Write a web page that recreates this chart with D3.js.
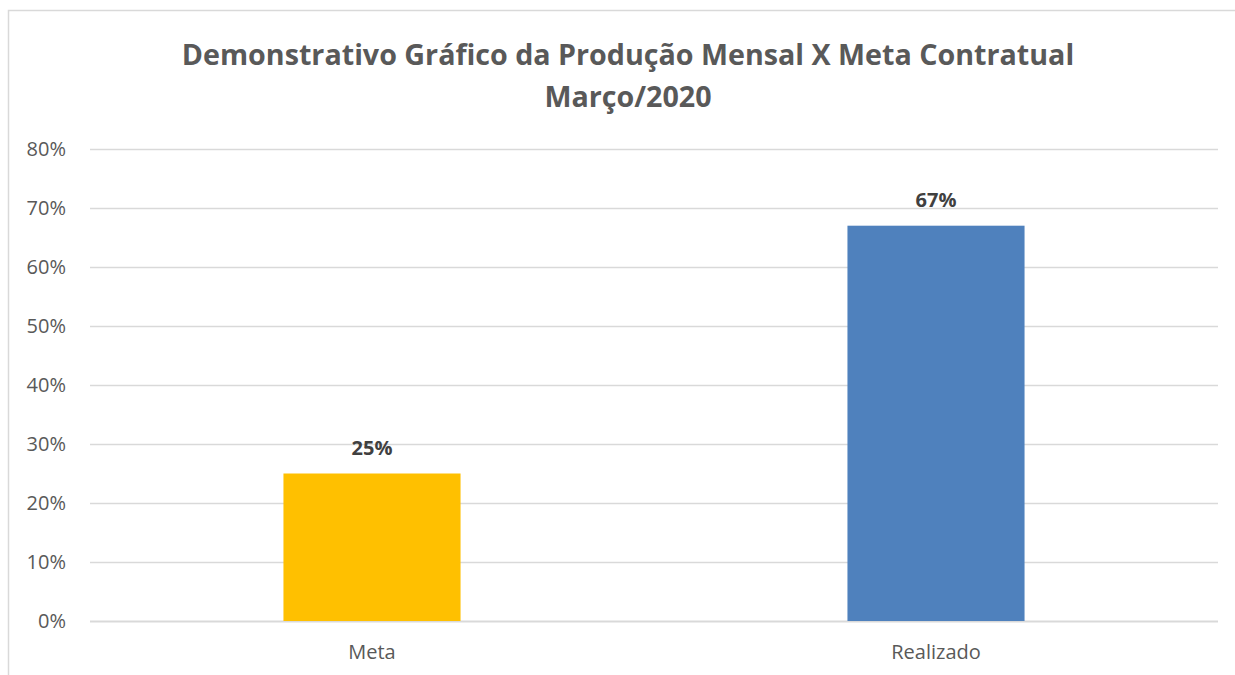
<!DOCTYPE html>
<html><head><meta charset="utf-8">
<script src="https://cdn.jsdelivr.net/npm/d3@7"></script>
<style>
html,body{margin:0;padding:0;background:#fff;}
svg{display:block;font-family:"Open Sans","Liberation Sans",sans-serif;}
</style></head>
<body>
<svg id="chart" width="1235" height="675"></svg>
<script>
const categories = ["Meta", "Realizado"];
const values = [0.25, 0.67];
const barColors = ["#FFC000", "#4F81BD"];
const yTicks = [0, 0.1, 0.2, 0.3, 0.4, 0.5, 0.6, 0.7, 0.8];
const titleLines = ["Demonstrativo Gráfico da Produção Mensal X Meta Contratual", "Março/2020"];

const svg = d3.select("#chart");
const W = 1235, H = 675;
const margin = {left: 90, right: 17, top: 149, bottom: 54};
const plotW = W - margin.left - margin.right;
const plotH = H - margin.top - margin.bottom;

// frame
svg.append("rect").attr("x", 8.5).attr("y", 10.5).attr("width", 1240).attr("height", 700)
  .attr("fill", "#fff").attr("stroke", "#d9d9d9").attr("stroke-width", 1.5);

const x = d3.scaleBand().domain(categories).range([margin.left, margin.left + plotW]).padding(0);
const y = d3.scaleLinear().domain([0, 0.8]).range([margin.top + plotH, margin.top]);

// gridlines
svg.append("g").selectAll("line").data(yTicks).join("line")
  .attr("x1", margin.left).attr("x2", margin.left + plotW)
  .attr("y1", d => Math.round(y(d)) + 0.5).attr("y2", d => Math.round(y(d)) + 0.5)
  .attr("stroke", "#d9d9d9").attr("stroke-width", d => d === 0 ? 2 : 1.3);

// y axis labels
const yAxis = d3.axisLeft(y).tickValues(yTicks).tickFormat(d3.format(".0%")).tickSize(0).tickPadding(24);
const ya = svg.append("g").attr("transform", `translate(${margin.left},0)`).call(yAxis);
ya.select(".domain").remove();
ya.selectAll("text").attr("font-size", 20).attr("fill", "#595959")
  .attr("font-family", "'Open Sans','Liberation Sans',sans-serif");

// bars
const barW = x.bandwidth() * 0.314;
svg.append("g").selectAll("rect").data(values).join("rect")
  .attr("x", (d, i) => x(categories[i]) + x.bandwidth() / 2 - barW / 2)
  .attr("width", barW)
  .attr("y", d => y(d))
  .attr("height", d => y(0) - y(d))
  .attr("fill", (d, i) => barColors[i]);

// data labels
svg.append("g").selectAll("text").data(values).join("text")
  .attr("x", (d, i) => x(categories[i]) + x.bandwidth() / 2)
  .attr("y", d => y(d) - 19)
  .attr("text-anchor", "middle")
  .attr("font-size", 20).attr("font-weight", "bold").attr("fill", "#404040")
  .text(d => d3.format(".0%")(d));

// x axis labels
const xAxis = d3.axisBottom(x).tickSize(0).tickPadding(24);
const xa = svg.append("g").attr("transform", `translate(0,${y(0)})`).call(xAxis);
xa.select(".domain").remove();
xa.selectAll("text").attr("font-size", 20).attr("fill", "#595959")
  .attr("font-family", "'Open Sans','Liberation Sans',sans-serif");

// title
const title = svg.append("text").attr("text-anchor", "middle").attr("font-weight", "bold")
  .attr("fill", "#595959").attr("font-size", 28);
title.selectAll("tspan").data(titleLines).join("tspan")
  .attr("x", 628).attr("y", (d, i) => 65 + i * 42).text(d => d);
// fit first title line width to reference
const t0 = title.select("tspan").node();
const len = t0.getComputedTextLength();
const fs = 28 * 893 / len;
title.attr("font-size", fs);
</script>
</body></html>
